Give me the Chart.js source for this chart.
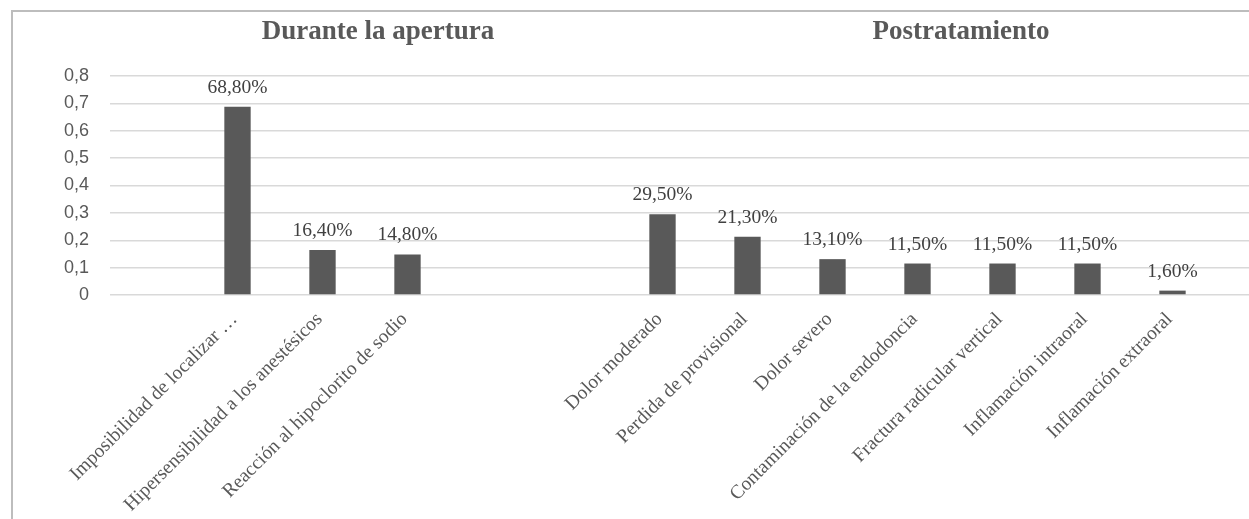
<!DOCTYPE html>
<html>
<head>
<meta charset="utf-8">
<script src="https://cdn.jsdelivr.net/npm/chart.js@4.4.0/dist/chart.umd.min.js"></script>
<style>
  html, body { margin: 0; padding: 0; background: #fff; overflow: hidden; }
  #wrap { position: relative; width: 1249px; height: 519px; overflow: hidden; }
  #frame { position: absolute; left: 11px; top: 10px; width: 1400px; height: 600px;
           border-top: 2px solid #bdbdbd; border-left: 2px solid #bdbdbd; }
  #box { position: absolute; left: 0; top: 0; width: 1300px; height: 519px; }
  .grp { position: absolute; top: 15px; transform: translateX(-50%);
         font: bold 27px "Liberation Serif", "Times New Roman", serif; color: #595959; white-space: nowrap; }
</style>
</head>
<body>
<div id="wrap">
  <div id="frame"></div>
  <div id="box"><canvas id="chart"></canvas></div>
  <div class="grp" style="left:378px">Durante la apertura</div>
  <div class="grp" style="left:961px">Postratamiento</div>
</div>
<script>
// categorías (las vacías separan los dos grupos, como en la hoja original)
const categories = [
  '',
  'Imposibilidad de localizar …',
  'Hipersensibilidad a los anestésicos',
  'Reacción al hipoclorito de sodio',
  '',
  '',
  'Dolor moderado',
  'Perdida de provisional',
  'Dolor severo',
  'Contaminación de la endodoncia',
  'Fractura radicular vertical',
  'Inflamación intraoral',
  'Inflamación extraoral',
  ''
];
const values = [null, 0.688, 0.164, 0.148, null, null, 0.295, 0.213, 0.131, 0.115, 0.115, 0.115, 0.016, null];
const valueLabels = ['', '68,80%', '16,40%', '14,80%', '', '', '29,50%', '21,30%', '13,10%', '11,50%', '11,50%', '11,50%', '1,60%', ''];
const yTicks = [0, 0.1, 0.2, 0.3, 0.4, 0.5, 0.6, 0.7, 0.8];

// etiquetas encima de cada barra
const barLabels = {
  id: 'barLabels',
  afterDatasetsDraw(chart) {
    const ctx = chart.ctx;
    const meta = chart.getDatasetMeta(0);
    ctx.save();
    ctx.font = '19.5px "Liberation Serif", "Times New Roman", serif';
    ctx.fillStyle = '#404040';
    ctx.textAlign = 'center';
    ctx.textBaseline = 'alphabetic';
    meta.data.forEach((bar, i) => {
      if (values[i] == null) return;
      ctx.fillText(valueLabels[i], bar.x, bar.y - 14);
    });
    ctx.restore();
  }
};

new Chart(document.getElementById('chart'), {
  type: 'bar',
  data: {
    labels: categories,
    datasets: [{
      data: values,
      backgroundColor: '#595959',
      barPercentage: 0.31,
      categoryPercentage: 1
    }]
  },
  options: {
    responsive: true,
    maintainAspectRatio: false,
    animation: false,
    layout: { padding: { top: 76, left: 0, right: 0, bottom: 0 } },
    plugins: { legend: { display: false }, tooltip: { enabled: false } },
    scales: {
      x: {
        grid: { display: false, drawTicks: false },
        border: { display: false },
        afterFit(scale) { scale.height = 519 - 295; },
        ticks: {
          autoSkip: false,
          maxRotation: 45,
          minRotation: 45,
          padding: 13,
          labelOffset: -3,
          color: '#595959',
          font: { family: '"Liberation Serif", "Times New Roman", serif', size: 19.5 }
        }
      },
      y: {
        min: 0,
        max: 0.8,
        afterFit(scale) { scale.width = 110; },
        afterBuildTicks(scale) { scale.ticks = yTicks.map(v => ({ value: v })); },
        grid: { color: '#d9d9d9', lineWidth: 1.5, drawTicks: false },
        border: { display: false },
        ticks: {
          padding: 21,
          color: '#595959',
          font: { family: '"Liberation Sans", Arial, sans-serif', size: 18 },
          callback: v => String(Math.round(v * 10) / 10).replace('.', ',')
        }
      }
    }
  },
  plugins: [barLabels]
});
</script>
</body>
</html>
